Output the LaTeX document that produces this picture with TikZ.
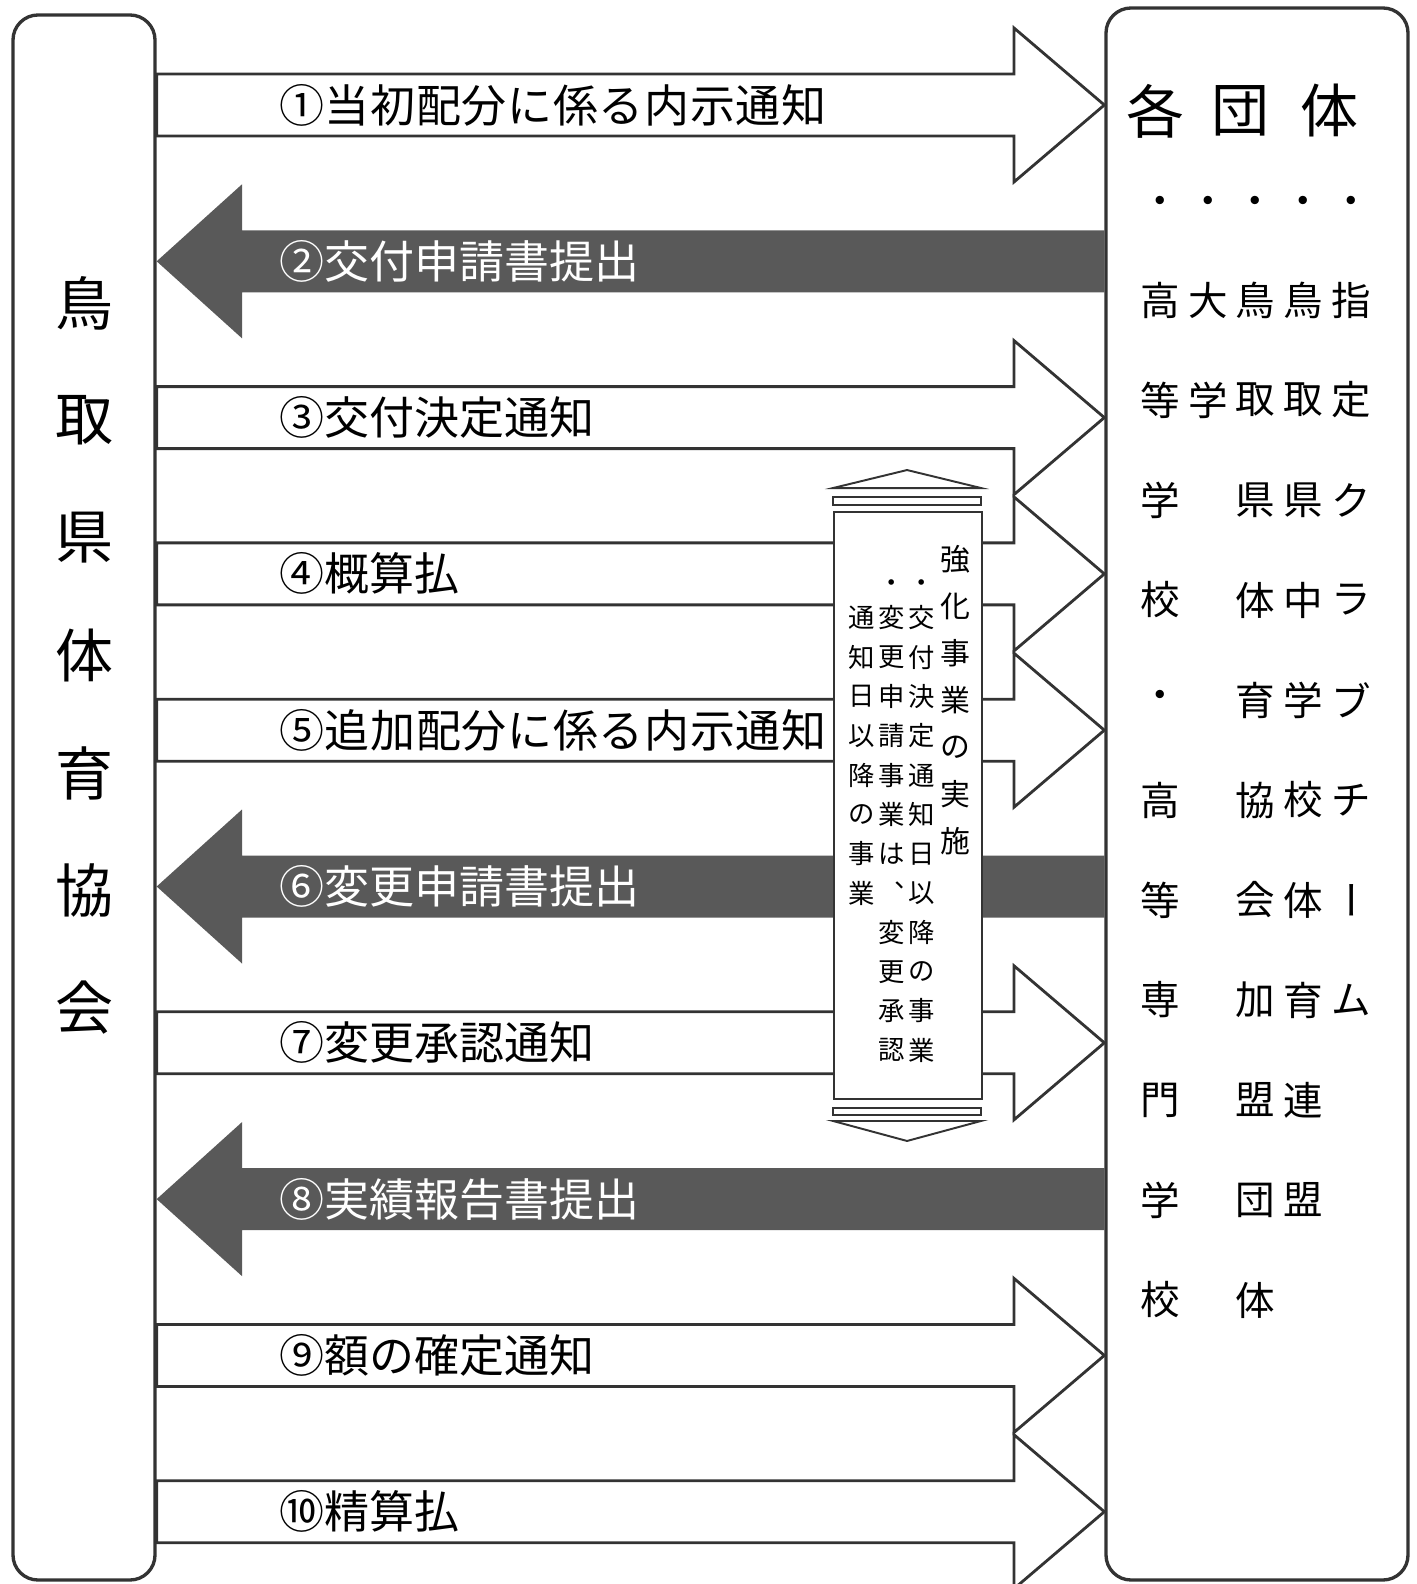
\documentclass[tikz,border=0pt]{standalone}
\usepackage{fontspec}
\usepackage{graphicx}
\setmainfont{Noto Sans CJK JP}
\newfontfamily\widefont[LetterSpace=1.5]{Noto Sans CJK JP}
\usetikzlibrary{fit,backgrounds}

\tikzset{
	orgbox/.style={draw=black!80, line width=1.9pt, rounded corners=0.5cm, inner sep=0pt},
	blockarrow/.style={draw=black!80, line width=1.6pt, fill=white, line join=miter},
	darkarrow/.style={fill=black!65},
	arrowtext/.style={inner sep=0pt, anchor=west, font=\fontsize{25.6}{30}\selectfont},
	bigtext/.style={inner sep=0pt, font=\fontsize{33}{40}\selectfont},
	coltext/.style={inner sep=0pt, font=\fontsize{22.5}{27}\selectfont},
	scrolltext/.style={inner sep=0pt, font=\fontsize{17}{20}\selectfont},
	smalltext/.style={inner sep=0pt, font=\fontsize{15}{18}\selectfont},
	scrollline/.style={draw=black!80, line width=1.1pt, fill=white}
}

% #1 name, #2 y of the arrow axis, #3 text
\newcommand{\sendarrow}[3]{%
	\draw[blockarrow] (kyokai.east |- 0,#2-31) -- (1014,#2-31) -- (1014,#2-77)
		-- (dantai.west |- 0,#2) -- (1014,#2+77) -- (1014,#2+31)
		-- (kyokai.east |- 0,#2+31) -- cycle;
	\node[arrowtext] (#1) at (279,#2) {#3};
}
\newcommand{\returnarrow}[3]{%
	\fill[darkarrow] (dantai.west |- 0,#2-31) -- (242,#2-31) -- (242,#2-77)
		-- (kyokai.east |- 0,#2) -- (242,#2+77) -- (242,#2+31)
		-- (dantai.west |- 0,#2+31) -- cycle;
	\node[arrowtext, text=white] (#1) at (279,#2) {#3};
}
% vertical text: #1 style, #2 name, #3 x, #4 first y, #5 step, #6 characters
\newcommand{\tategaki}[6]{%
	\foreach \c [count=\i] in {#6}
		\node[#1] (#2\i) at (#3, #4+#5*\i-#5) {\c};
}

\begin{document}
\begin{tikzpicture}[x=0.02cm, y=-0.02cm]
	\useasboundingbox (0,0) rectangle (1416,1584);

	\node[orgbox, fit={(13,15) (155,1580)}] (kyokai) {};
	\node[orgbox, fit={(1106,8) (1408,1580)}] (dantai) {};

	\begin{scope}[on background layer]
		\sendarrow{a1}{105}{\widefont ①当初配分に係る内示通知}
		\returnarrow{a2}{261.3}{②交付申請書提出}
		\sendarrow{a3}{417.6}{③交付決定通知}
		\sendarrow{a4}{573.9}{④概算払}
		\sendarrow{a5}{730.2}{\widefont ⑤追加配分に係る内示通知}
		\returnarrow{a6}{886.5}{⑥変更申請書提出}
		\sendarrow{a7}{1042.8}{⑦変更承認通知}
		\returnarrow{a8}{1199.1}{⑧実績報告書提出}
		\sendarrow{a9}{1355.4}{⑨額の確定通知}
		\sendarrow{a10}{1511.7}{⑩精算払}
	\end{scope}

	\tategaki{bigtext}{k}{84}{303}{117.5}{鳥,取,県,体,育,協,会}

	\node[bigtext] (head1) at (1155,111) {各};
	\node[bigtext] (head2) at (1240,111) {団};
	\node[bigtext] (head3) at (1329,111) {体};
	\foreach \j in {1,...,5}
		\node[coltext] (dot\j) at (1160+47.8*\j-47.8,206) {・};
	\tategaki{coltext}{ka}{1160}{300}{100}{高,等,学,校,・,高,等,専,門,学,校}
	\tategaki{coltext}{kb}{1207.8}{300}{100}{大,学}
	\tategaki{coltext}{kc}{1255.6}{300}{100}{鳥,取,県,体,育,協,会,加,盟,団,体}
	\tategaki{coltext}{kd}{1303.4}{300}{100}{鳥,取,県,中,学,校,体,育,連,盟}
	\tategaki{coltext}{ke}{1351.2}{300}{100}{指,定,ク,ラ,ブ,チ,\kern-7pt\rotatebox{-90}{ー},ム}

	\node[scrollline, fit={(834,512) (982,1099)}, inner sep=0pt] (kyoka) {};
	\draw[scrollline] (kyoka.north west) ++(0,-6) rectangle ++(148,-8);
	\draw[scrollline] (kyoka.north west) ++(0,-23) -- ++(74,-18) -- ++(74,18) -- cycle;
	\draw[scrollline] (kyoka.south west) ++(0,8) rectangle ++(148,7);
	\draw[scrollline] (kyoka.south west) ++(0,21) -- ++(74,20) -- ++(74,-20) -- cycle;

	\tategaki{scrolltext}{sa}{955}{559}{47}{強,化,事,業,の,実,施}
	\node[smalltext] (sdot1) at (922,586) {・};
	\node[smalltext] (sdot2) at (892,586) {・};
	\tategaki{smalltext}{sb}{922}{618}{39.3}{交,付,決,定,通,知,日,以,降,の,事,業}
	\tategaki{smalltext}{sc}{892}{618}{39.3}{変,更,申,請,事,業,は,︑,変,更,承,認}
	\tategaki{smalltext}{sd}{862}{618}{39.3}{通,知,日,以,降,の,事,業}
\end{tikzpicture}
\end{document}
